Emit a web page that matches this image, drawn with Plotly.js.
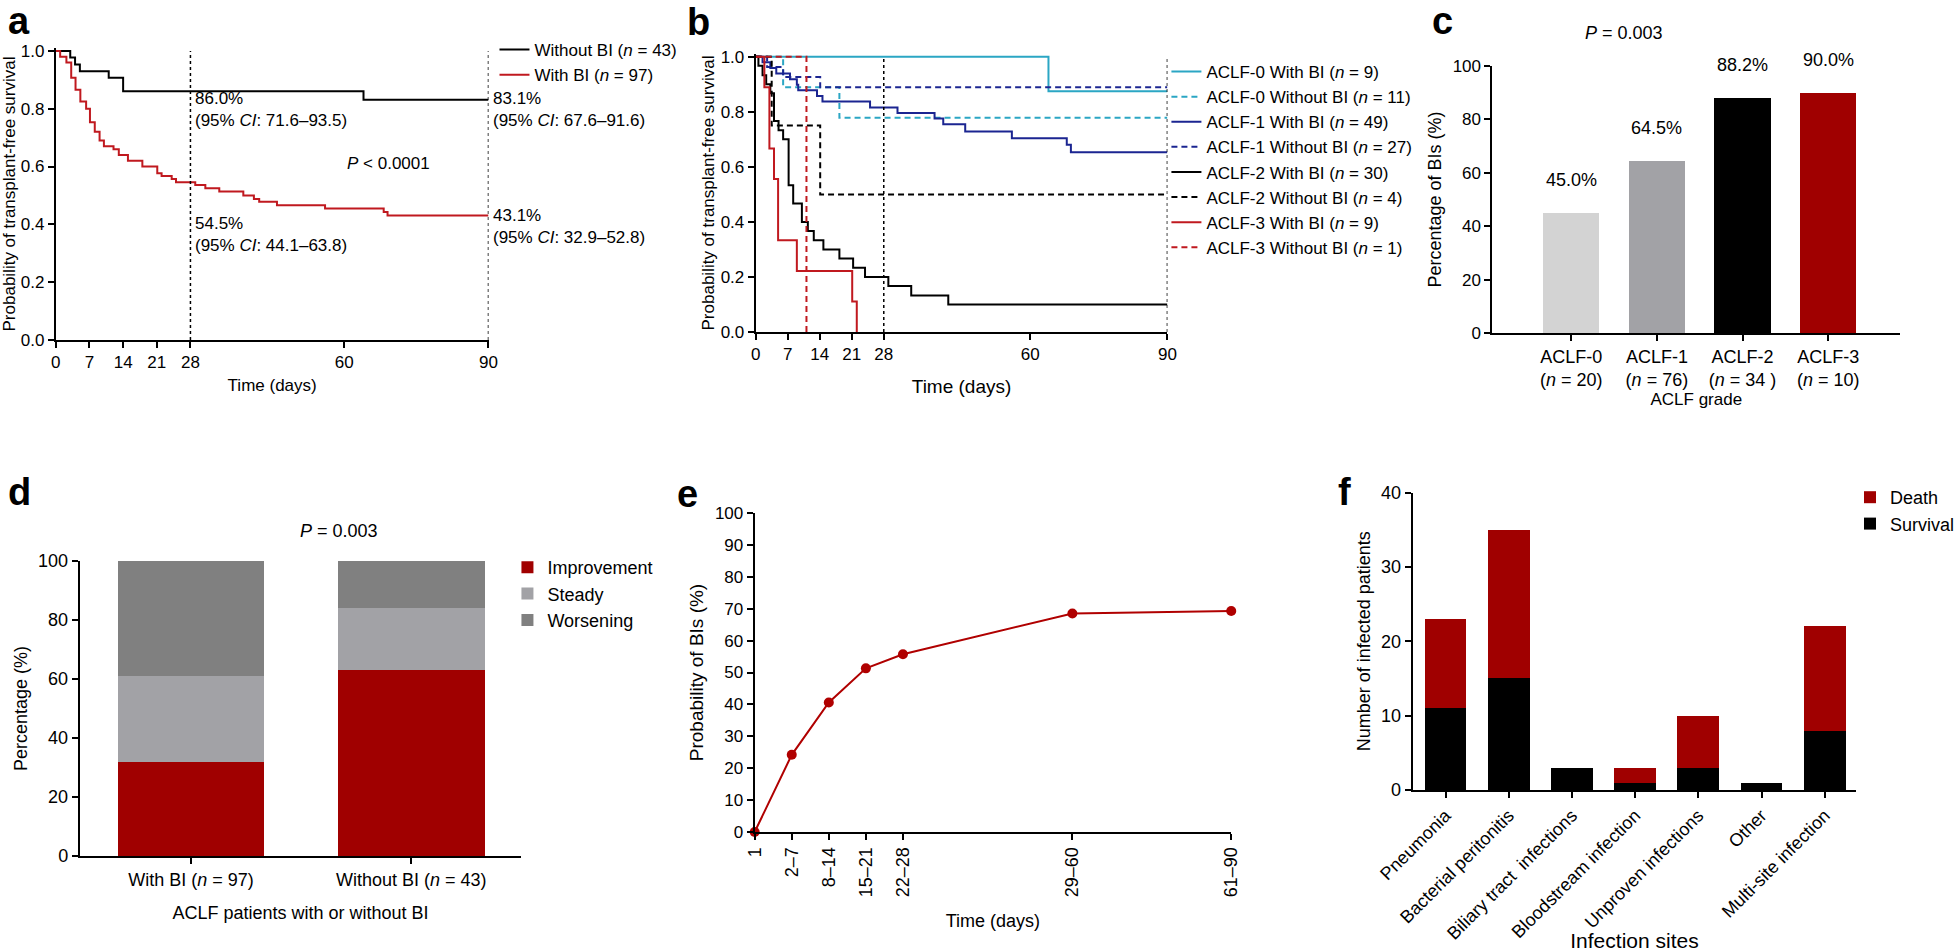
<!DOCTYPE html>
<html>
<head>
<meta charset="utf-8">
<script src="https://cdn.plot.ly/plotly-3.0.1.min.js"></script>
<style>
html,body{margin:0;padding:0;background:#fff;}
#chart{width:1960px;height:952px;}
</style>
</head>
<body>
<div id="chart"></div>
<script>
// ================= DATA =================
// Panel a: Kaplan-Meier, transplant-free survival (days, probability)
const aWithoutDays = [0, 3, 4, 5, 11, 14, 64, 90];
const aWithoutSurv = [1.0, 0.977, 0.953, 0.930, 0.907, 0.860, 0.831, 0.831];
const aWithDays = [0, 0.9, 2.2, 3.2, 4.1, 5.1, 6.3, 7.1, 8.1, 9.1, 10, 12, 13.1, 15, 18, 21.1, 22, 24.1, 25, 29, 31.1, 34, 39, 41.2, 42.3, 46, 56, 68.2, 69, 90];
const aWithSurv = [1.0, 0.98, 0.96, 0.907, 0.866, 0.825, 0.80, 0.753, 0.72, 0.69, 0.67, 0.66, 0.64, 0.62, 0.60, 0.577, 0.567, 0.557, 0.546, 0.536, 0.525, 0.514, 0.50, 0.488, 0.478, 0.466, 0.455, 0.443, 0.431, 0.431];
const aLegend = ['Without BI (<i>n</i> = 43)', 'With BI (<i>n</i> = 97)'];
const aXTicks = [0, 7, 14, 21, 28, 60, 90];
const refDays = [28, 90];

// Panel b: Kaplan-Meier by ACLF grade
const b0WithDays = [0, 64, 90];
const b0WithSurv = [1.0, 0.875, 0.875];
const b0WithoutDays = [0, 6, 18.3, 90];
const b0WithoutSurv = [1.0, 0.889, 0.778, 0.778];
const b1WithDays = [0, 1.5, 3.2, 4.5, 7.5, 9.0, 9.3, 13.4, 14.6, 25, 31, 39.1, 41, 45.8, 56, 68, 68.9, 90];
const b1WithSurv = [1.0, 0.98, 0.959, 0.939, 0.918, 0.898, 0.878, 0.857, 0.837, 0.816, 0.796, 0.776, 0.755, 0.728, 0.704, 0.68, 0.653, 0.653];
const b1WithoutDays = [0, 2.5, 6, 14.1, 90];
const b1WithoutSurv = [1.0, 0.963, 0.926, 0.889, 0.889];
const b2WithDays = [0, 0.6, 1.5, 2.3, 3.2, 4.0, 5.0, 6.0, 7.2, 8.2, 10.1, 11.4, 12.7, 14.8, 18.3, 21.3, 23.9, 29, 34, 42.1, 90];
const b2WithSurv = [1.0, 0.967, 0.933, 0.90, 0.867, 0.767, 0.733, 0.70, 0.533, 0.467, 0.40, 0.367, 0.333, 0.30, 0.267, 0.233, 0.20, 0.167, 0.133, 0.10, 0.10];
const b2WithoutDays = [0, 3.5, 14.1, 90];
const b2WithoutSurv = [1.0, 0.75, 0.50, 0.50];
const b3WithDays = [0, 1.9, 3.0, 4.0, 4.9, 9.0, 21.1, 22.1];
const b3WithSurv = [1.0, 0.889, 0.667, 0.556, 0.333, 0.222, 0.111, 0.0];
const b3WithoutDays = [0, 11.1];
const b3WithoutSurv = [1.0, 0.0];
const bLegend = [
  'ACLF-0 With BI (<i>n</i> = 9)', 'ACLF-0 Without BI (<i>n</i> = 11)',
  'ACLF-1 With BI (<i>n</i> = 49)', 'ACLF-1 Without BI (<i>n</i> = 27)',
  'ACLF-2 With BI (<i>n</i> = 30)', 'ACLF-2 Without BI (<i>n</i> = 4)',
  'ACLF-3 With BI (<i>n</i> = 9)', 'ACLF-3 Without BI (<i>n</i> = 1)'
];

// Panel c: percentage of BIs by ACLF grade
const cGrades = ['ACLF-0', 'ACLF-1', 'ACLF-2', 'ACLF-3'];
const cN = ['20', '76', '34 ', '10'];
const cPct = [45.0, 64.5, 88.2, 90.0];

// Panel d: ACLF course
const dGroups = ['With BI', 'Without BI'];
const dN = [97, 43];
const dImprovement = [32, 63];
const dSteady = [29, 21];
const dWorsening = [39, 16];

// Panel e: probability of BIs over time
const eDays = [0, 7, 14, 21, 28, 60, 90];
const eLabels = ['1', '2–7', '8–14', '15–21', '22–28', '29–60', '61–90'];
const eProb = [0, 24.2, 40.6, 51.3, 55.7, 68.5, 69.3];

// Panel f: infection sites
const fSites = ['Pneumonia', 'Bacterial peritonitis', 'Biliary tract\u00a0 infections', 'Bloodstream infection', 'Unproven infections', 'Other', 'Multi-site infection'];
const fSurvival = [11, 15, 3, 1, 3, 1, 8];
const fDeath = [12, 20, 0, 2, 7, 0, 14];

// ================= STYLE / LAYOUT =================
const W = 1960, H = 952;
const px = v => v / W;
const py = v => 1 - v / H;
const FONT = 'Liberation Sans, Arial, Helvetica, sans-serif';
const RED_LINE = '#c0191f';
const RED_BAR = '#a00000';
const TEAL = '#2ba6c4';
const NAVY = '#1b2591';
const DASH = '6px,4px';

function ax(extra) {
  return Object.assign({
    showline: true, linecolor: '#000', linewidth: 2,
    ticks: 'outside', ticklen: 6, tickwidth: 2, tickcolor: '#000',
    showgrid: false, zeroline: false, fixedrange: true, automargin: false,
    tickfont: {size: 17, color: '#000', family: FONT}
  }, extra);
}
function ttl(text, size, standoff) {
  return {text: text, font: {size: size, color: '#000', family: FONT}, standoff: standoff};
}

const traces = [];
function km(days, surv, name, color, dash, xa, ya, legend) {
  traces.push({
    type: 'scatter', mode: 'lines', x: days, y: surv, name: name,
    line: {color: color, width: 2, shape: 'hv', dash: dash || 'solid'},
    xaxis: xa, yaxis: ya, legend: legend, hoverinfo: 'skip'
  });
}

// Panel a
km(aWithoutDays, aWithoutSurv, aLegend[0], '#000', 'solid', 'x', 'y', 'legend');
km(aWithDays, aWithSurv, aLegend[1], RED_LINE, 'solid', 'x', 'y', 'legend');

// Panel b
const bSeries = [
  [b0WithDays, b0WithSurv, TEAL, 'solid'],
  [b0WithoutDays, b0WithoutSurv, TEAL, DASH],
  [b1WithDays, b1WithSurv, NAVY, 'solid'],
  [b1WithoutDays, b1WithoutSurv, NAVY, DASH],
  [b2WithDays, b2WithSurv, '#000', 'solid'],
  [b2WithoutDays, b2WithoutSurv, '#000', DASH],
  [b3WithDays, b3WithSurv, RED_LINE, 'solid'],
  [b3WithoutDays, b3WithoutSurv, RED_LINE, DASH]
];
bSeries.forEach((s, i) => km(s[0], s[1], bLegend[i], s[2], s[3], 'x2', 'y2', 'legend2'));

// Panel c
traces.push({
  type: 'bar', x: cGrades, y: cPct, width: 0.66,
  marker: {color: ['#d3d3d3', '#a2a2a6', '#000000', RED_BAR]},
  xaxis: 'x3', yaxis: 'y3', showlegend: false, hoverinfo: 'skip'
});

// Panel d
[[dImprovement, 'Improvement', RED_BAR], [dSteady, 'Steady', '#a2a2a6'], [dWorsening, 'Worsening', '#808080']]
  .forEach((s, i) => traces.push({
    type: 'bar', x: dGroups, y: s[0], name: s[1], width: 0.665,
    marker: {color: s[2]}, xaxis: 'x4', yaxis: 'y4',
    legend: 'legend3', legendrank: i + 1, hoverinfo: 'skip'
  }));

// Panel e
traces.push({
  type: 'scatter', mode: 'lines+markers', x: eDays, y: eProb,
  line: {color: '#b00000', width: 2}, marker: {color: '#b00000', size: 10},
  xaxis: 'x5', yaxis: 'y5', showlegend: false, cliponaxis: false, hoverinfo: 'skip'
});

// Panel f (Survival stacked at bottom; legend lists Death first)
[[fSurvival, 'Survival', '#000000', 2], [fDeath, 'Death', RED_BAR, 1]]
  .forEach(s => traces.push({
    type: 'bar', x: fSites, y: s[0], name: s[1], width: 0.66,
    marker: {color: s[2]}, xaxis: 'x6', yaxis: 'y6',
    legend: 'legend4', legendrank: s[3], hoverinfo: 'skip'
  }));

// ---------- annotations ----------
const annotations = [];
function note(text, x, y, opts) {
  annotations.push(Object.assign({
    text: text, x: x, y: y, xref: 'paper', yref: 'paper', showarrow: false,
    font: {size: 17, color: '#000', family: FONT}
  }, opts || {}));
}
// panel letters
[['a', 19, 21], ['b', 701, 22], ['c', 1447, 21], ['d', 20, 492], ['e', 690, 494], ['f', 1349, 492]]
  .forEach(l => note('<b>' + l[0] + '</b>', px(l[1]), py(l[2]), {font: {size: 38, color: '#000', family: FONT}, xanchor: 'center', yanchor: 'middle'}));

// panel a text
note('86.0%<br>(95% <i>CI</i>: 71.6–93.5)', refDays[0], 0.796, {xref: 'x', yref: 'y', xanchor: 'left', align: 'left', xshift: 3});
note('83.1%<br>(95% <i>CI</i>: 67.6–91.6)', refDays[1], 0.796, {xref: 'x', yref: 'y', xanchor: 'left', align: 'left', xshift: 3});
note('54.5%<br>(95% <i>CI</i>: 44.1–63.8)', refDays[0], 0.365, {xref: 'x', yref: 'y', xanchor: 'left', align: 'left', xshift: 3});
note('43.1%<br>(95% <i>CI</i>: 32.9–52.8)', refDays[1], 0.393, {xref: 'x', yref: 'y', xanchor: 'left', align: 'left', xshift: 3});
note('<i>P</i> < 0.0001', 69.3, 0.612, {xref: 'x', yref: 'y', xanchor: 'center'});

// panel c
note('<i>P</i> = 0.003', px(1670), py(21), {font: {size: 18, color: '#000', family: FONT}});
cGrades.forEach((g, i) => note(cPct[i].toFixed(1) + '%', g, cPct[i],
  {xref: 'x3', yref: 'y3', yanchor: 'middle', yshift: 33, font: {size: 18, color: '#000', family: FONT}}));

// panel d
note('<i>P</i> = 0.003', px(299), py(531), {font: {size: 18, color: '#000', family: FONT}});

// ---------- shapes (reference lines) ----------
const shapes = [];
['x', 'x2'].forEach((xa, k) => {
  const ya = k === 0 ? 'y' : 'y2';
  refDays.forEach(d => shapes.push({
    type: 'line', xref: xa, yref: ya, x0: d, x1: d, y0: 0, y1: 1.0,
    line: {color: '#000', width: 1.5, dash: 'dot'}, layer: 'above'
  }));
});

const legendBase = {
  xanchor: 'left', yanchor: 'top', bgcolor: 'rgba(0,0,0,0)', traceorder: 'normal',
  font: {size: 17, color: '#000', family: FONT}, itemwidth: 30, itemclick: false, itemdoubleclick: false
};

const layout = {
  width: W, height: H,
  margin: {l: 0, r: 0, t: 0, b: 0},
  paper_bgcolor: '#fff', plot_bgcolor: 'rgba(0,0,0,0)',
  font: {family: FONT, size: 17, color: '#000'},
  barmode: 'stack',
  showlegend: true,
  hovermode: false,
  legend: Object.assign({}, legendBase, {x: px(496), y: py(32)}),
  legend2: Object.assign({}, legendBase, {x: px(1170), y: py(54)}),
  legend3: Object.assign({}, legendBase, {x: px(509), y: py(549), font: {size: 18, color: '#000', family: FONT}}),
  legend4: Object.assign({}, legendBase, {x: px(1856), y: py(479), font: {size: 18, color: '#000', family: FONT}}),

  // a
  xaxis: ax({domain: [px(56), px(490)], range: [0, 90], tickvals: aXTicks, anchor: 'y', title: ttl('Time (days)', 17, 8)}),
  yaxis: ax({domain: [py(340), py(48)], range: [0, 1.01], tickvals: [0, 0.2, 0.4, 0.6, 0.8, 1.0], tickformat: '.1f', anchor: 'x',
             title: ttl('Probability of transplant-free survival', 17, 2)}),
  // b
  xaxis2: ax({domain: [px(758), px(1171)], range: [0, 90], tickvals: aXTicks, anchor: 'y2', title: ttl('Time (days)', 19, 16)}),
  yaxis2: ax({domain: [py(332), py(54)], range: [0, 1.01], tickvals: [0, 0.2, 0.4, 0.6, 0.8, 1.0], tickformat: '.1f', anchor: 'x2',
              title: ttl('Probability of transplant-free survival', 17, 2)}),
  // c
  xaxis3: ax({domain: [px(1497), px(1906)], type: 'category', range: [-0.92, 3.84], anchor: 'y3',
              tickvals: cGrades, ticktext: cGrades.map((g, i) => g + '<br>(<i>n</i> = ' + cN[i] + ')'),
              tickfont: {size: 18, color: '#000', family: FONT}, title: ttl('ACLF grade', 17, 4)}),
  yaxis3: ax({domain: [py(333), py(66)], range: [0, 100], dtick: 20, anchor: 'x3', title: ttl('Percentage of BIs (%)', 18, 6)}),
  // d
  xaxis4: ax({domain: [px(80), px(523)], type: 'category', range: [-0.505, 1.5], anchor: 'y4',
              tickvals: dGroups, ticktext: dGroups.map((g, i) => g + ' (<i>n</i> = ' + dN[i] + ')'),
              tickfont: {size: 18, color: '#000', family: FONT}, title: ttl('ACLF patients with or without BI', 18, 18)}),
  yaxis4: ax({domain: [py(856), py(561)], range: [0, 100], dtick: 20, anchor: 'x4', tickfont: {size: 18, color: '#000', family: FONT},
              title: ttl('Percentage (%)', 18, 6)}),
  // e
  xaxis5: ax({domain: [px(757), px(1235)], range: [0, 90], tickvals: eDays, ticktext: eLabels, tickangle: -90, anchor: 'y5',
              tickfont: {size: 18, color: '#000', family: FONT}, title: ttl('Time (days)', 18, 18)}),
  yaxis5: ax({domain: [py(832), py(513)], range: [0, 100], dtick: 10, anchor: 'x5', title: ttl('Probability of BIs (%)', 19, 6)}),
  // f
  xaxis6: ax({domain: [px(1417), px(1862)], type: 'category', range: [-0.52, 6.5], tickangle: -45, anchor: 'y6',
              tickfont: {size: 18, color: '#000', family: FONT}, title: ttl('Infection sites', 21, 6)}),
  yaxis6: ax({domain: [py(790), py(492.5)], range: [0, 40], dtick: 10, anchor: 'x6', tickfont: {size: 18, color: '#000', family: FONT},
              title: ttl('Number of infected patients', 18, 6)}),

  annotations: annotations,
  shapes: shapes
};

Plotly.newPlot('chart', traces, layout, {staticPlot: true, displayModeBar: false});
</script>
</body>
</html>
